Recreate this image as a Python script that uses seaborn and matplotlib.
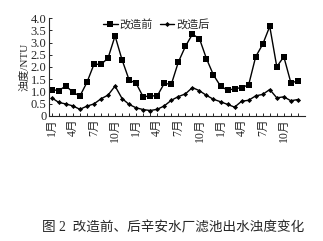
import matplotlib
matplotlib.use("Agg")
import matplotlib.pyplot as plt
import seaborn as sns
import pandas as pd
import numpy as np

# monthly filter effluent turbidity, 3 years
months = list(range(1, 37))
before = [1.08, 1.03, 1.23, 0.97, 0.81, 1.37, 2.11, 2.11, 2.36, 3.27, 2.29, 1.47,
          1.33, 0.78, 0.82, 0.82, 1.33, 1.29, 2.20, 2.84, 3.34, 3.16, 2.34, 1.67,
          1.22, 1.05, 1.11, 1.16, 1.27, 2.42, 2.93, 3.66, 2.01, 2.42, 1.36, 1.42]
after = [0.74, 0.55, 0.49, 0.41, 0.27, 0.40, 0.49, 0.70, 0.85, 1.22, 0.71, 0.47,
         0.33, 0.26, 0.22, 0.27, 0.41, 0.64, 0.79, 0.90, 1.16, 1.03, 0.84, 0.68,
         0.58, 0.47, 0.36, 0.60, 0.64, 0.82, 0.88, 1.08, 0.74, 0.78, 0.62, 0.67]
tick_pos = [1, 4, 7, 10, 13, 16, 19, 22, 25, 28, 31, 34]
tick_labels = ['1月', '4月', '7月', '10月'] * 3
y_ticks = [0, 0.5, 1.0, 1.5, 2.0, 2.5, 3.0, 3.5, 4.0]
y_labels = ['0', '0.5', '1.0', '1.5', '2.0', '2.5', '3.0', '3.5', '4.0']

df = pd.DataFrame({
    'month': months * 2,
    'turbidity': before + after,
    'group': ['改造前'] * len(before) + ['改造后'] * len(after),
})

sns.set_style('ticks')
plt.rcParams['font.family'] = ['Liberation Serif', 'Noto Sans CJK SC']

fig = plt.figure(figsize=(3.23, 2.41), dpi=100)
ax = fig.add_axes([0.152, 0.519, 0.792, 0.406])

sns.lineplot(
    data=df, x='month', y='turbidity',
    hue='group', style='group',
    palette={'改造前': 'black', '改造后': 'black'},
    markers={'改造前': 's', '改造后': 'D'},
    dashes=False, linewidth=1.0,
    markeredgewidth=0, ax=ax,
)
# marker sizes differ between the two series
for line, ms in zip(ax.lines[:2], [4.0, 2.6]):
    line.set_markersize(ms)

ax.set_xlim(0.62, 37.0)
ax.set_ylim(0, 4.0)
ax.set_xticks(tick_pos)
ax.set_xticklabels(tick_labels, rotation=90, fontsize=8.5)
ax.set_xticks(months, minor=True)
ax.set_yticks(y_ticks)
ax.set_yticklabels(y_labels, fontsize=9)
ax.tick_params(axis='both', which='both', direction='in', length=2.5, width=0.7, pad=2)
ax.set_xlabel('')
ax.set_ylabel('浊度/NTU', fontsize=8, labelpad=1)
for s in ['top', 'right']:
    ax.spines[s].set_visible(False)
for s in ['left', 'bottom']:
    ax.spines[s].set_linewidth(0.8)

handles, labels = ax.get_legend_handles_labels()
for h, ms in zip(handles, [4.0, 2.6]):
    h.set_markersize(ms)
ax.legend(handles, labels, loc='upper center', bbox_to_anchor=(0.42, 1.04),
          ncol=2, frameon=False, fontsize=8, handlelength=1.3,
          handletextpad=0.2, columnspacing=0.6, borderaxespad=0)

fig.text(0.535, 0.055, '图 2  改造前、后辛安水厂滤池出水浊度变化',
         ha='center', va='center', fontsize=9.8)

fig.savefig('out.png', dpi=100, facecolor='white')
